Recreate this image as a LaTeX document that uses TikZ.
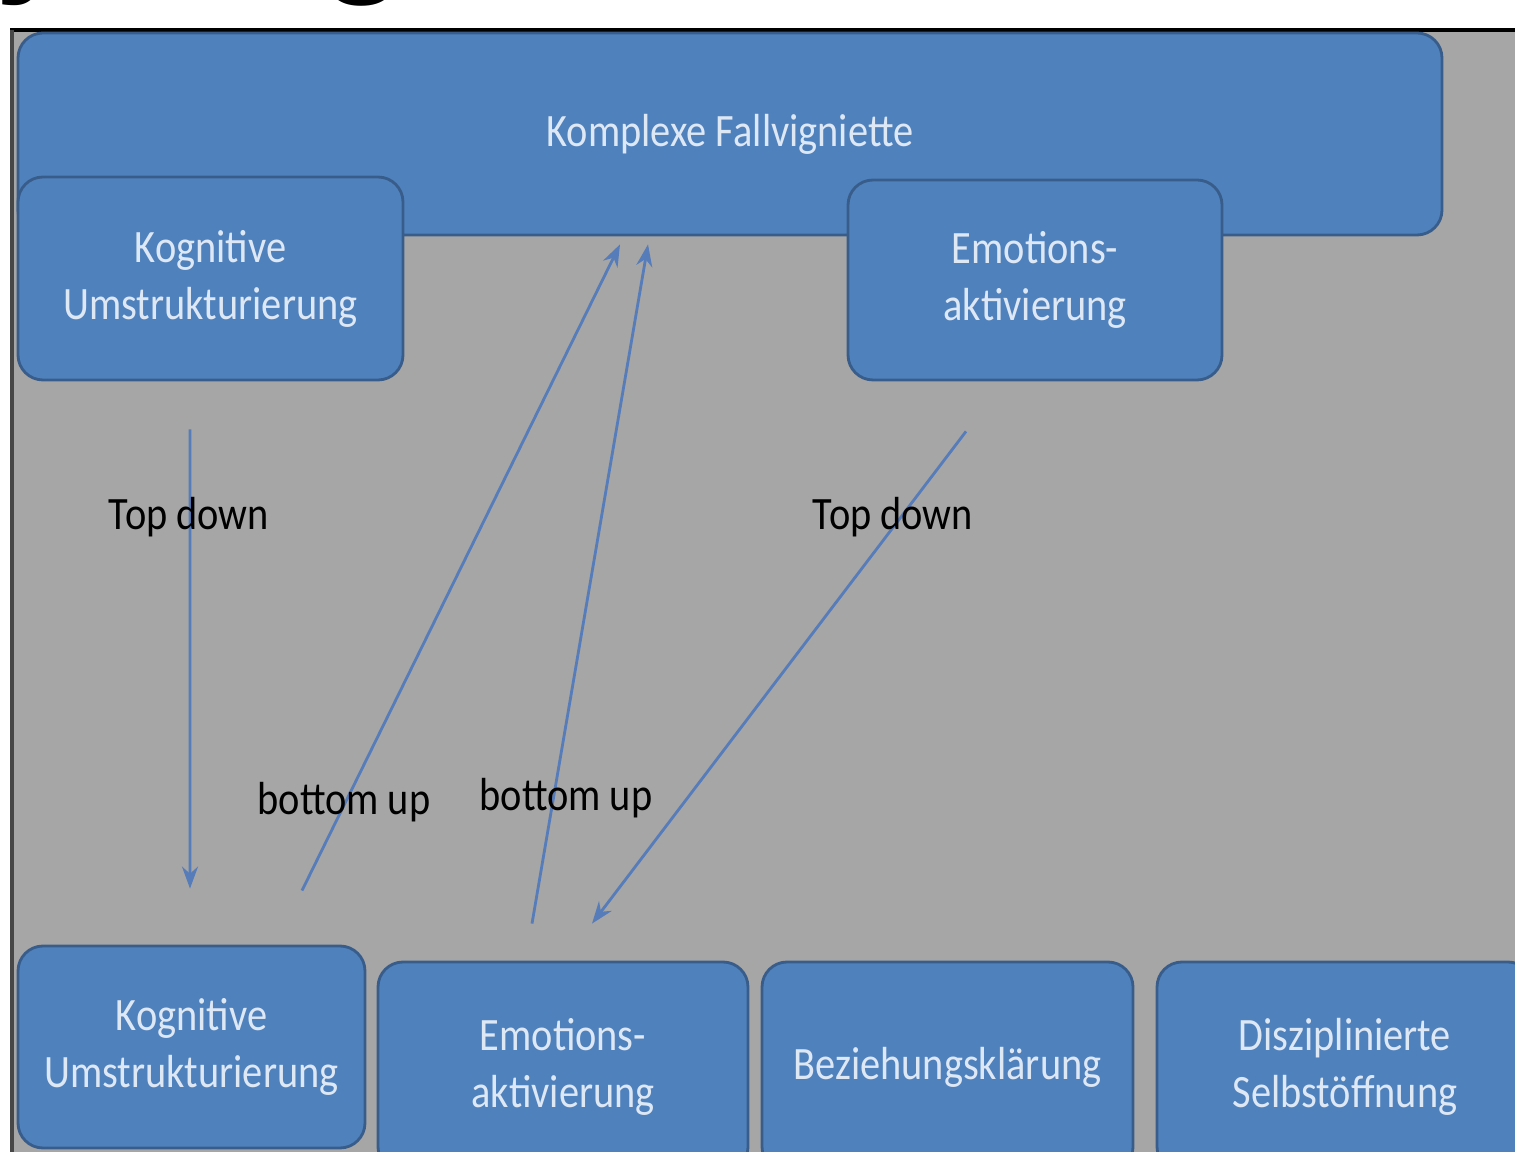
\documentclass[tikz,border=0pt]{standalone}
\usepackage{fontspec}
\setmainfont{Carlito}[FakeStretch=0.87]
\setsansfont{Liberation Sans}
\usetikzlibrary{arrows.meta}

\definecolor{slidegray}{RGB}{166,166,166}
\definecolor{boxblue}{RGB}{79,129,189}
\definecolor{boxedge}{RGB}{56,93,138}
\definecolor{boxtext}{RGB}{222,232,245}
\definecolor{linkblue}{RGB}{86,124,186}

\begin{document}
\begin{tikzpicture}[x=0.1mm, y=-0.1mm]
    % Define styles for shapes
    \tikzstyle{box} = [draw=boxedge, line width=0.8pt, fill=boxblue, rounded corners=2.5mm, text=boxtext, align=center, inner sep=0pt, font=\fontsize{13.2}{16.2}\selectfont]
    \tikzstyle{link} = [linkblue, line width=0.8pt, -{Stealth[length=2.2mm, width=1.6mm]}]
    \tikzstyle{tag} = [text=black, font=\fontsize{13.2}{16.2}\selectfont]

    % Page and slide background
    \useasboundingbox (0,0) rectangle (1515,1152);
    \clip (0,0) rectangle (1515,1152);
    \fill[slidegray] (12,30) rectangle (1515,1152);
    \draw[black, line width=1pt] (10,30) -- (1515,30);
    \draw[black!72, line width=1pt] (12,30) -- (12,1152);

    % Cut-off heading above the slide
    \node[font=\sffamily\bfseries\fontsize{40}{40}\selectfont, anchor=base] (heady) at (35,-23) {y};
    \node[font=\sffamily\bfseries\fontsize{40}{40}\selectfont, anchor=base] (headg) at (363,-23) {g};

    % Draw the boxes
    \node[box, minimum width=14.24cm, minimum height=2.02cm] (fall) at (730,134) {Komplexe Fallvigniette};
    \node[box, minimum width=3.85cm, minimum height=2.03cm] (kogtop) at (210.5,278.5) {Kognitive\\Umstrukturierung};
    \node[box, minimum width=3.74cm, minimum height=2cm] (emotop) at (1035,280) {Emotions-\\aktivierung};

    \node[box, minimum width=3.47cm, minimum height=2.02cm] (kogbot) at (191.5,1047) {Kognitive\\Umstrukturierung};
    \node[box, minimum width=3.7cm, minimum height=2.1cm] (emobot) at (563,1067) {Emotions-\\aktivierung};
    \node[box, minimum width=3.71cm, minimum height=2.1cm] (bez) at (947.5,1067) {Beziehungsklärung};
    \node[box, minimum width=3.76cm, minimum height=2.1cm] (diszi) at (1345,1067) {Disziplinierte\\Selbstöffnung};

    % Draw the arrows between the boxes
    \draw[link] ([xshift=-2.05mm, yshift=-4.8mm]kogtop.south) -- ([xshift=-0.15mm, yshift=5.6mm]kogbot.north);
    \draw[link] ([xshift=11.05mm, yshift=5.4mm]kogbot.north) -- ([xshift=-11mm, yshift=-0.8mm]fall.south);
    \draw[link] ([xshift=-3.1mm, yshift=3.7mm]emobot.north) -- ([xshift=-8.2mm, yshift=-0.8mm]fall.south);
    \draw[link] ([xshift=-6.9mm, yshift=-5mm]emotop.south) -- ([xshift=2.9mm, yshift=3.7mm]emobot.north);

    % Labels of the arrows
    \node[tag] (tdleft) at (189,517) {Top down};
    \node[tag] (tdright) at (893,517) {Top down};
    \node[tag] (buleft) at (344,802) {bottom up};
    \node[tag] (buright) at (566,798) {bottom up};

\end{tikzpicture}
\end{document}
